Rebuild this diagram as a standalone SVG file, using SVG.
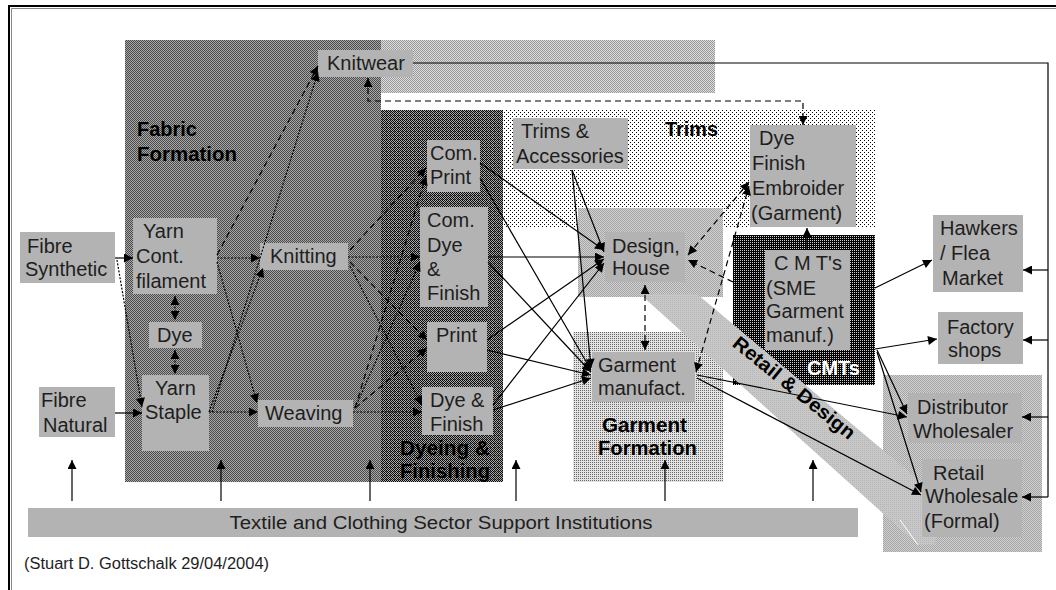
<svg xmlns="http://www.w3.org/2000/svg" width="1056" height="590" viewBox="0 0 1056 590">
<style>
.bx{fill:#b3b3b3}
.t{font-family:"Liberation Sans",Arial,sans-serif;font-size:20px;fill:#1e1e1e}
.lb{font-family:"Liberation Sans",Arial,sans-serif;font-size:19.5px;font-weight:bold;fill:#000}
.c{fill:none;stroke:#000;stroke-width:1.2}
.d{stroke-dasharray:6,4}
.o{stroke-dasharray:2,1.5}
.e{marker-end:url(#ah)}
.s{marker-start:url(#ah)}
</style>
<defs>
<marker id="ah" viewBox="0 0 10 10" refX="10" refY="5" markerWidth="10" markerHeight="9" markerUnits="userSpaceOnUse" orient="auto-start-reverse"><path d="M0,0 L10,5 L0,10 z" fill="#000"/></marker>
<pattern id="pFab" width="2" height="2" patternUnits="userSpaceOnUse"><rect width="2" height="2" fill="#a8a8a8"/><rect width="1" height="1" fill="#4a4a4a"/><rect x="1" y="1" width="1" height="1" fill="#4a4a4a"/></pattern>
<pattern id="pDye" width="4" height="4" patternUnits="userSpaceOnUse"><rect width="4" height="4" fill="#0a0a0a"/><rect x="1" y="0" width="1" height="1" fill="#a8a8a8"/><rect x="3" y="0" width="1" height="1" fill="#a8a8a8"/><rect x="0" y="1" width="1" height="1" fill="#a8a8a8"/><rect x="2" y="1" width="1" height="1" fill="#a8a8a8"/><rect x="1" y="2" width="1" height="1" fill="#a8a8a8"/><rect x="3" y="2" width="1" height="1" fill="#a8a8a8"/><rect x="0" y="3" width="1" height="1" fill="#a8a8a8"/><rect x="2" y="3" width="1" height="1" fill="#606060"/></pattern>
<pattern id="pKnit" width="2" height="2" patternUnits="userSpaceOnUse"><rect width="2" height="2" fill="#dcdcdc"/><rect width="1" height="1" fill="#9a9a9a"/><rect x="1" y="1" width="1" height="1" fill="#9a9a9a"/></pattern>
<pattern id="pTrim" width="4" height="4" patternUnits="userSpaceOnUse"><rect width="4" height="4" fill="#ffffff"/><rect width="1" height="1" fill="#000"/><rect x="2" y="2" width="1" height="1" fill="#000"/></pattern>
<pattern id="pDes" width="2" height="2" patternUnits="userSpaceOnUse"><rect width="2" height="2" fill="#d2d2d2"/><rect width="1" height="1" fill="#a4a4a4"/><rect x="1" y="1" width="1" height="1" fill="#a4a4a4"/></pattern>
<pattern id="pGar" width="2" height="2" patternUnits="userSpaceOnUse"><rect width="2" height="2" fill="#e2e2e2"/><rect width="1" height="1" fill="#6a6a6a"/></pattern>
<pattern id="pCmt" width="2" height="2" patternUnits="userSpaceOnUse"><rect width="2" height="2" fill="#000"/><rect width="1" height="1" fill="#d0d0d0"/></pattern>
<pattern id="pBand" width="2" height="2" patternUnits="userSpaceOnUse"><rect width="2" height="2" fill="#c8c8c8"/><rect width="1" height="1" fill="#b4b4b4"/></pattern>
</defs>
<rect width="1056" height="590" fill="#ffffff"/>
<path d="M9,600 V6 H1060" fill="none" stroke="#000" stroke-width="2"/>
<path d="M11.5,600 V8.5 H1060" fill="none" stroke="#888" stroke-width="1"/>

<g id="regions">
<rect x="125" y="40" width="256" height="442" fill="url(#pFab)"/>
<rect x="381" y="40" width="334" height="53" fill="url(#pKnit)"/>
<rect x="381" y="110" width="122" height="372" fill="url(#pDye)"/>
<rect x="503" y="110" width="372" height="117" fill="url(#pTrim)"/>
<rect x="578" y="208" width="145" height="89" fill="url(#pDes)"/>
<rect x="573" y="332" width="150" height="150" fill="url(#pGar)"/>
<rect x="733" y="235" width="142" height="150" fill="url(#pCmt)"/>
<rect x="883" y="375" width="159" height="177" fill="url(#pDes)"/>
<polygon points="640,294 697,294 940,498 935,545 918,545" fill="url(#pBand)"/>
<line x1="918" y1="545" x2="900" y2="520" stroke="#fff" stroke-width="1"/>
</g>

<g id="labels">
<text class="lb" x="137" y="136" textLength="60" lengthAdjust="spacingAndGlyphs">Fabric</text>
<text class="lb" x="137" y="161" textLength="100" lengthAdjust="spacingAndGlyphs">Formation</text>
<text class="lb" x="665" y="136" textLength="53" lengthAdjust="spacingAndGlyphs">Trims</text>
<text class="lb" x="400" y="455" textLength="90" lengthAdjust="spacingAndGlyphs">Dyeing &amp;</text>
<text class="lb" x="400" y="478" textLength="90" lengthAdjust="spacingAndGlyphs">Finishing</text>
<text class="lb" x="602" y="432" textLength="85" lengthAdjust="spacingAndGlyphs">Garment</text>
<text class="lb" x="598" y="455" textLength="99" lengthAdjust="spacingAndGlyphs">Formation</text>
<text class="lb" x="807" y="375" textLength="53" lengthAdjust="spacingAndGlyphs" style="fill:#fff">CMTs</text>
<text class="lb" x="0" y="0" textLength="151" lengthAdjust="spacingAndGlyphs" text-anchor="middle" transform="translate(790,393) rotate(39)">Retail &amp; Design</text>
</g>

<g id="n-fibre-synthetic"><rect class="bx" x="20" y="232" width="95" height="51"/><text class="t" x="27" y="253">Fibre</text><text class="t" x="25" y="276">Synthetic</text></g>
<g id="n-fibre-natural"><rect class="bx" x="39" y="387" width="76" height="50"/><text class="t" x="41" y="407">Fibre</text><text class="t" x="43" y="432">Natural</text></g>
<g id="n-yarn-cont"><rect class="bx" x="133" y="218" width="84" height="76"/><text class="t" x="143" y="238">Yarn</text><text class="t" x="136" y="263">Cont.</text><text class="t" x="136" y="288">filament</text></g>
<g id="n-dye"><rect class="bx" x="149" y="322" width="53" height="26"/><text class="t" x="157" y="342">Dye</text></g>
<g id="n-yarn-staple"><rect class="bx" x="142" y="375" width="67" height="76"/><text class="t" x="155" y="395">Yarn</text><text class="t" x="145" y="419">Staple</text></g>
<g id="n-knitting"><rect class="bx" x="260" y="243" width="88" height="27"/><text class="t" x="270" y="263">Knitting</text></g>
<g id="n-weaving"><rect class="bx" x="258" y="400" width="95" height="27"/><text class="t" x="265" y="420">Weaving</text></g>
<g id="n-knitwear"><rect class="bx" x="318" y="50" width="95" height="27"/><text class="t" x="327" y="70">Knitwear</text></g>
<g id="n-com-print"><rect class="bx" x="427" y="140" width="53" height="52"/><text class="t" x="430" y="160">Com.</text><text class="t" x="430" y="184">Print</text></g>
<g id="n-com-dye"><rect class="bx" x="420" y="207" width="68" height="100"/><text class="t" x="427" y="227">Com.</text><text class="t" x="427" y="252">Dye</text><text class="t" x="427" y="276">&amp;</text><text class="t" x="427" y="300">Finish</text></g>
<g id="n-print"><rect class="bx" x="427" y="322" width="60" height="50"/><text class="t" x="436" y="342">Print</text></g>
<g id="n-dye-finish"><rect class="bx" x="422" y="387" width="71" height="48"/><text class="t" x="430" y="407">Dye &amp;</text><text class="t" x="430" y="431">Finish</text></g>
<g id="n-trims"><rect class="bx" x="513" y="118" width="115" height="51"/><text class="t" x="521" y="138">Trims &amp;</text><text class="t" x="516" y="163">Accessories</text></g>
<g id="n-design"><rect class="bx" x="605" y="232" width="80" height="50"/><text class="t" x="612" y="253">Design,</text><text class="t" x="612" y="275">House</text></g>
<g id="n-garment"><rect class="bx" x="592" y="352" width="103" height="50"/><text class="t" x="598" y="372">Garment</text><text class="t" x="598" y="395">manufact.</text></g>
<g id="n-dfe"><rect class="bx" x="750" y="125" width="106" height="102"/><text class="t" x="759" y="145">Dye</text><text class="t" x="752" y="170">Finish</text><text class="t" x="752" y="195">Embroider</text><text class="t" x="751" y="220">(Garment)</text></g>
<g id="n-cmt"><rect class="bx" x="765" y="250" width="85" height="100"/><text class="t" x="774" y="270">C M T's</text><text class="t" x="766" y="295">(SME</text><text class="t" x="766" y="318">Garment</text><text class="t" x="766" y="342">manuf.)</text></g>
<g id="n-hawkers"><rect class="bx" x="933" y="215" width="90" height="77"/><text class="t" x="940" y="235">Hawkers</text><text class="t" x="940" y="260">/ Flea</text><text class="t" x="942" y="285">Market</text></g>
<g id="n-factory"><rect class="bx" x="938" y="312" width="85" height="52"/><text class="t" x="947" y="334">Factory</text><text class="t" x="948" y="357">shops</text></g>
<g id="n-distributor"><rect class="bx" x="908" y="393" width="114" height="50"/><text class="t" x="917" y="414">Distributor</text><text class="t" x="913" y="438">Wholesaler</text></g>
<g id="n-retail"><rect class="bx" x="922" y="459" width="100" height="78"/><text class="t" x="933" y="480">Retail</text><text class="t" x="925" y="503">Wholesale</text><text class="t" x="924" y="528">(Formal)</text></g>
<g id="n-support"><rect class="bx" x="28" y="508" width="830" height="29"/><text class="t" x="441" y="529" text-anchor="middle" textLength="423" lengthAdjust="spacingAndGlyphs" style="font-size:18px">Textile and Clothing Sector Support Institutions</text></g>
<g id="credit"><text class="t" x="24" y="569" textLength="245" lengthAdjust="spacingAndGlyphs" style="font-size:16px">(Stuart D. Gottschalk 29/04/2004)</text></g>

<g id="connectors">
<path class="c e" d="M115,258 H133"/>
<path class="c o e" d="M117,260 L142,407"/>
<path class="c e" d="M115,413 H142"/>
<path class="c o s e" d="M175,296 V320"/>
<path class="c o s e" d="M175,350 V374"/>
<path class="c o e" d="M217,258 H260"/>
<path class="c o e" d="M217,262 L257,403"/>
<path class="c o e" d="M209,412 L263,268"/>
<path class="c o e" d="M212,412 L318,72"/>
<path class="c d e" d="M217,255 L318,66"/>
<path class="c o e" d="M209,412 H258"/>
<path class="c o e" d="M348,257 H420"/>
<path class="c d e" d="M350,250 L426,168"/>
<path class="c d e" d="M350,262 L427,340"/>
<path class="c o e" d="M350,266 L422,405"/>
<path class="c o e" d="M353,412 H422"/>
<path class="c d e" d="M355,408 L426,176"/>
<path class="c o e" d="M355,408 L420,262"/>
<path class="c d e" d="M355,408 L427,348"/>
<path class="c e" d="M480,163 L604,250"/>
<path class="c e" d="M480,178 L591,370"/>
<path class="c e" d="M488,257 H604"/>
<path class="c e" d="M488,262 L591,372"/>
<path class="c e" d="M487,340 L604,259"/>
<path class="c e" d="M487,350 L591,375"/>
<path class="c e" d="M493,405 L604,263"/>
<path class="c e" d="M493,410 L591,378"/>
<path class="c e" d="M572,170 L604,252"/>
<path class="c e" d="M572,170 L591,368"/>
<path class="c d s e" d="M645,285 V350"/>
<path class="c d s e" d="M688,255 L749,182"/>
<path class="c d s e" d="M696,372 L749,186"/>
<path class="c d e" d="M733,282 L688,260"/>
<path class="c e" d="M807,250 V228"/>
<path class="c e" d="M875,288 L932,260"/>
<path class="c e" d="M875,349 L937,339"/>
<path class="c e" d="M877,350 L907,414"/>
<path class="c e" d="M877,352 L921,492"/>
<path class="c e" d="M697,375 L907,417"/>
<path class="c e" d="M697,378 L921,495"/>
<path class="c" d="M413,63 H1048 V497"/>
<path class="c e" d="M1048,270 H1023"/>
<path class="c e" d="M1048,340 H1023"/>
<path class="c e" d="M1048,417 H1022"/>
<path class="c e" d="M1048,497 H1022"/>
<path class="c d s e" d="M368,78 V101 H803 V125"/>
<path class="c e" d="M72,501 V460"/>
<path class="c e" d="M221,501 V460"/>
<path class="c e" d="M370,501 V460"/>
<path class="c e" d="M516,501 V460"/>
<path class="c e" d="M665,501 V460"/>
<path class="c e" d="M813,501 V460"/>
</g>
</svg>
